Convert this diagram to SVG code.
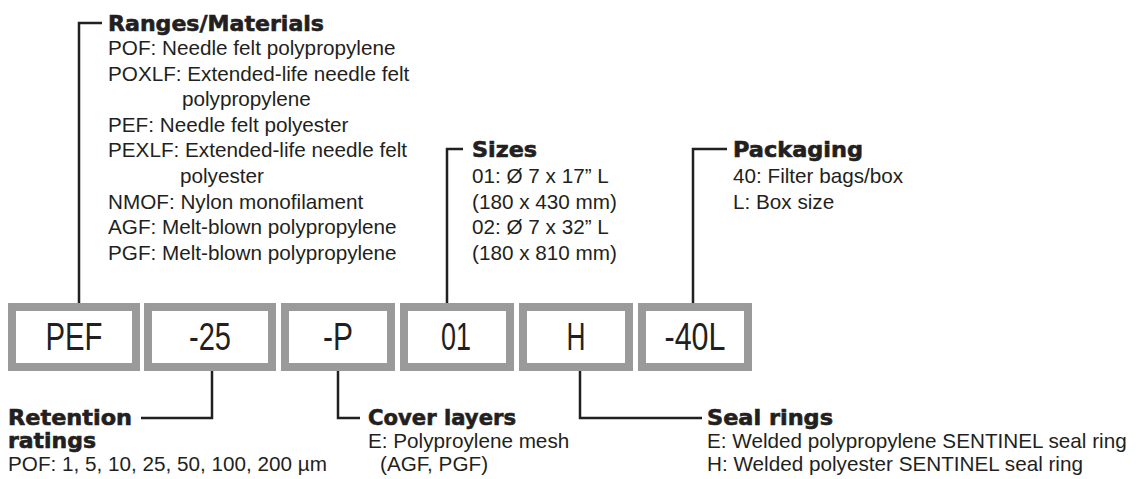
<svg xmlns="http://www.w3.org/2000/svg" width="1141" height="479" viewBox="0 0 1141 479">
<style>
.box{fill:#fff;stroke:#9a9a9a;stroke-width:8}
.bt{font-family:"Liberation Sans",Arial,sans-serif;font-size:38px;fill:#231f20;text-anchor:middle}
.h{font-family:"DejaVu Sans","Liberation Sans",sans-serif;font-weight:bold;font-size:21px;fill:#231f20;stroke:#231f20;stroke-width:0.6}
.t{font-family:"Liberation Sans",Arial,sans-serif;font-size:20.7px;fill:#231f20}
.ln{fill:none;stroke:#231f20;stroke-width:2.5}
</style>
<rect width="1141" height="479" fill="#fff"/>
<g id="connectors">
<polyline class="ln" points="102,23 79,23 79,303"/>
<polyline class="ln" points="463,149 447,149 447,303"/>
<polyline class="ln" points="727,149 693,149 693,303"/>
<polyline class="ln" points="212,371 212,418 141,418"/>
<polyline class="ln" points="338,371 338,418 360,418"/>
<polyline class="ln" points="580,371 580,418 702,418"/>
</g>
<g id="box-pef"><rect class="box" x="12" y="307" width="124" height="60"/><text class="bt" x="74" y="350" textLength="57" lengthAdjust="spacingAndGlyphs">PEF</text></g>
<g id="box-25"><rect class="box" x="148" y="307" width="124" height="60"/><text class="bt" x="210" y="350" textLength="42" lengthAdjust="spacingAndGlyphs">-25</text></g>
<g id="box-p"><rect class="box" x="285" y="307" width="106" height="60"/><text class="bt" x="338" y="350" textLength="30" lengthAdjust="spacingAndGlyphs">-P</text></g>
<g id="box-01"><rect class="box" x="404" y="307" width="106" height="60"/><text class="bt" x="456" y="350" textLength="30" lengthAdjust="spacingAndGlyphs">01</text></g>
<g id="box-h"><rect class="box" x="523" y="307" width="106" height="60"/><text class="bt" x="576" y="350" textLength="19" lengthAdjust="spacingAndGlyphs">H</text></g>
<g id="box-40l"><rect class="box" x="642" y="307" width="106" height="60"/><text class="bt" x="695" y="350" textLength="61" lengthAdjust="spacingAndGlyphs">-40L</text></g>
<g id="ranges">
<text class="h" x="108" y="31" textLength="216" lengthAdjust="spacingAndGlyphs">Ranges/Materials</text>
<text class="t" x="108" y="55">POF: Needle felt polypropylene</text>
<text class="t" x="108" y="81">POXLF: Extended-life needle felt</text>
<text class="t" x="182" y="106">polypropylene</text>
<text class="t" x="108" y="132">PEF: Needle felt polyester</text>
<text class="t" x="108" y="157">PEXLF: Extended-life needle felt</text>
<text class="t" x="180" y="183">polyester</text>
<text class="t" x="108" y="209">NMOF: Nylon monofilament</text>
<text class="t" x="108" y="234">AGF: Melt-blown polypropylene</text>
<text class="t" x="108" y="260">PGF: Melt-blown polypropylene</text>
</g>
<g id="sizes">
<text class="h" x="472" y="157" textLength="65" lengthAdjust="spacingAndGlyphs">Sizes</text>
<text class="t" x="472" y="183">01: Ø 7 x 17” L</text>
<text class="t" x="472" y="209">(180 x 430 mm)</text>
<text class="t" x="472" y="234">02: Ø 7 x 32” L</text>
<text class="t" x="472" y="260">(180 x 810 mm)</text>
</g>
<g id="packaging">
<text class="h" x="733" y="157" textLength="130" lengthAdjust="spacingAndGlyphs">Packaging</text>
<text class="t" x="733" y="183">40: Filter bags/box</text>
<text class="t" x="733" y="209">L: Box size</text>
</g>
<g id="retention">
<text class="h" x="8" y="425" textLength="124" lengthAdjust="spacingAndGlyphs">Retention</text>
<text class="h" x="8" y="448" textLength="88" lengthAdjust="spacingAndGlyphs">ratings</text>
<text class="t" x="8" y="471">POF: 1, 5, 10, 25, 50, 100, 200 µm</text>
</g>
<g id="cover">
<text class="h" x="368" y="425" textLength="148" lengthAdjust="spacingAndGlyphs">Cover layers</text>
<text class="t" x="368" y="448">E: Polyproylene mesh</text>
<text class="t" x="380" y="471">(AGF, PGF)</text>
</g>
<g id="seal">
<text class="h" x="707" y="425" textLength="126" lengthAdjust="spacingAndGlyphs">Seal rings</text>
<text class="t" x="707" y="448">E: Welded polypropylene SENTINEL seal ring</text>
<text class="t" x="707" y="471">H: Welded polyester SENTINEL seal ring</text>
</g>
</svg>
